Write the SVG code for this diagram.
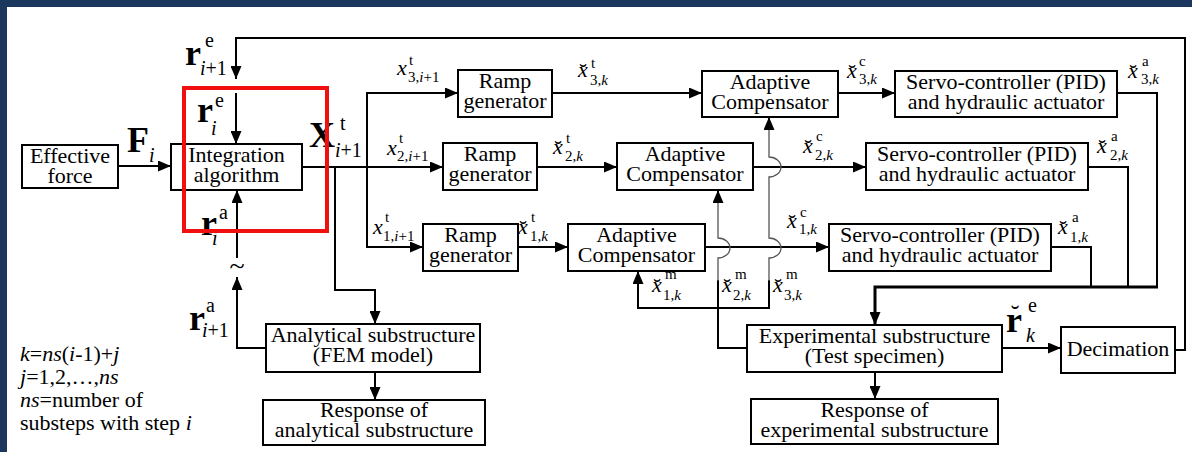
<svg xmlns="http://www.w3.org/2000/svg" width="1192" height="452" viewBox="0 0 1192 452">
<defs>
<marker id="ah" markerUnits="userSpaceOnUse" markerWidth="13" markerHeight="11" refX="13" refY="5.5" orient="auto">
<path d="M0,0 L13,5.5 L0,11 z" fill="#000"/>
</marker>
<style>
text{font-family:'Liberation Serif','DejaVu Serif','Noto Serif',serif;fill:#000}
.box{fill:#fff;stroke:#000;stroke-width:2}
.t{font-size:22px;text-anchor:middle}
.n{font-size:22px}
.m{font-size:22px;font-style:italic}
.s{font-size:15px}
.p{font-size:20px}
.b{font-size:36px;font-weight:bold}
.brv{font-size:23px;text-anchor:middle}
.i{font-style:italic}
.c{fill:none;stroke:#000;stroke-width:2}
.a{marker-end:url(#ah)}
.g{fill:none;stroke:#555;stroke-width:1.3}
.hl{fill:none;stroke:#f01010;stroke-width:4}
</style>
</defs>
<rect x="0" y="0" width="1192" height="452" fill="#fff"/>
<rect x="0" y="0" width="1192" height="7" fill="#1c375e"/>
<rect x="0" y="0" width="7" height="452" fill="#1c375e"/>

<g id="connectors">
<path class="c a" d="M118,166 H171"/>
<path class="c a" d="M302,167 H443"/>
<path class="c a" d="M367,167 V93 H458"/>
<path class="c a" d="M367,167 V247 H423"/>
<path class="c a" d="M335,167 V290 H375 V324"/>
<path class="c a" d="M552,93 H702"/>
<path class="c a" d="M838,93 H895"/>
<path class="c a" d="M537,167 H617"/>
<path class="c a" d="M753,167 H866"/>
<path class="c a" d="M518,247 H568"/>
<path class="c a" d="M705,247 H829"/>
<path class="c" d="M1117,93 H1157 V287"/>
<path class="c" d="M1088,167 H1128 V287"/>
<path class="c" d="M1051,247 H1091 V287"/>
<path class="c a" d="M1158,287 H875 V325" style="stroke-width:3"/>
<path class="c a" d="M1002,348 H1061"/>
<path class="c a" d="M875,372 V399"/>
<path class="c a" d="M1175,350 H1185 V38 H236 V79"/>
<path class="c a" d="M236,93 V144"/>
<path class="c a" d="M266,348 H237 V277"/>
<path class="c a" d="M237,258 V190"/>
<path class="c a" d="M375,372 V400"/>
<path class="c" d="M747,348 H718 V280"/>
<path class="c a" d="M718,308 H638 V271"/>
<path class="c" d="M718,308 H769 V280"/>
<path class="g" d="M718,281 V258 A12,10 0 0 0 718,238 V200"/>
<path class="c a" d="M718,201 V190"/>
<path class="g" d="M769,281 V258 A12,10 0 0 0 769,238 V177 A12,10 0 0 0 769,157 V128"/>
<path class="c a" d="M769,129 V117"/>
</g>

<g id="effective-force"><rect class="box" x="22" y="145" width="96" height="43"/><text class="t" x="70" y="163">Effective</text><text class="t" x="70" y="183">force</text></g>
<g id="integration-algorithm"><rect class="box" x="171" y="144" width="131" height="46"/><text class="t" x="236.5" y="162">Integration</text><text class="t" x="236.5" y="182">algorithm</text></g>
<g id="ramp-generator-3"><rect class="box" x="458" y="70" width="94" height="47"/><text class="t" x="505" y="88">Ramp</text><text class="t" x="505" y="108">generator</text></g>
<g id="ramp-generator-2"><rect class="box" x="443" y="143" width="94" height="47"/><text class="t" x="490" y="161">Ramp</text><text class="t" x="490" y="181">generator</text></g>
<g id="ramp-generator-1"><rect class="box" x="423" y="224" width="95" height="47"/><text class="t" x="470.5" y="242">Ramp</text><text class="t" x="470.5" y="262">generator</text></g>
<g id="adaptive-compensator-3"><rect class="box" x="702" y="71" width="136" height="46"/><text class="t" x="770" y="89">Adaptive</text><text class="t" x="770" y="109">Compensator</text></g>
<g id="adaptive-compensator-2"><rect class="box" x="617" y="143" width="136" height="47"/><text class="t" x="685" y="161">Adaptive</text><text class="t" x="685" y="181">Compensator</text></g>
<g id="adaptive-compensator-1"><rect class="box" x="568" y="224" width="137" height="47"/><text class="t" x="636.5" y="242">Adaptive</text><text class="t" x="636.5" y="262">Compensator</text></g>
<g id="servo-3"><rect class="box" x="895" y="71" width="222" height="46"/><text class="t" x="1006" y="89">Servo-controller (PID)</text><text class="t" x="1006" y="109">and hydraulic actuator</text></g>
<g id="servo-2"><rect class="box" x="866" y="143" width="222" height="47"/><text class="t" x="977" y="161">Servo-controller (PID)</text><text class="t" x="977" y="181">and hydraulic actuator</text></g>
<g id="servo-1"><rect class="box" x="829" y="224" width="222" height="47"/><text class="t" x="940" y="242">Servo-controller (PID)</text><text class="t" x="940" y="262">and hydraulic actuator</text></g>
<g id="analytical-substructure"><rect class="box" x="266" y="324" width="214" height="48"/><text class="t" x="373" y="342">Analytical substructure</text><text class="t" x="373" y="362">(FEM model)</text></g>
<g id="response-analytical"><rect class="box" x="263" y="400" width="222" height="45"/><text class="t" x="374" y="417">Response of</text><text class="t" x="374" y="437">analytical substructure</text></g>
<g id="experimental-substructure"><rect class="box" x="747" y="325" width="255" height="47"/><text class="t" x="874.5" y="343">Experimental substructure</text><text class="t" x="874.5" y="363">(Test specimen)</text></g>
<g id="response-experimental"><rect class="box" x="751" y="399" width="247" height="45"/><text class="t" x="874.5" y="417">Response of</text><text class="t" x="874.5" y="437">experimental substructure</text></g>
<g id="decimation"><rect class="box" x="1061" y="327" width="114" height="46"/><text class="t" x="1118" y="356">Decimation</text></g>

<g id="labels">
<text class="b" x="185" y="65">r</text><text class="p" x="205" y="47">e</text><text class="p" x="200" y="75"><tspan class="i">i</tspan>+1</text>
<text class="b" x="197" y="122">r</text><text class="p" x="215" y="107">e</text><text class="p i" x="211" y="135">i</text>
<text class="b" x="127" y="152">F</text><text class="p i" x="149" y="162">i</text>
<text class="b" x="309" y="147">X</text><text class="p" x="340" y="130">t</text><text class="p" x="335" y="157"><tspan class="i">i</tspan>+1</text>
<text class="b" x="201" y="235">r</text><text class="p" x="219" y="219">a</text><text class="p i" x="212" y="245">i</text>
<text class="t" x="237" y="275" style="font-size:28px">~</text>
<text class="b" x="189" y="330">r</text><text class="p" x="206" y="312">a</text><text class="p" x="202" y="337"><tspan class="i">i</tspan>+1</text>
<text class="b" x="1006" y="332">r</text><text class="brv" x="1015" y="323" style="font-size:26px">˘</text><text class="p" x="1028" y="312">e</text><text class="p i" x="1026" y="342">k</text>

<text class="m" x="397" y="75">x</text><text class="s" x="409" y="65">t</text><text class="s" x="408" y="82">3,<tspan class="i">i</tspan>+1</text>
<text class="m" x="578" y="77">x</text><text class="brv" x="583" y="80">˘</text><text class="s" x="591" y="68">t</text><text class="s" x="590" y="85">3,<tspan class="i">k</tspan></text>
<text class="m" x="847" y="78">x</text><text class="brv" x="852" y="81">˘</text><text class="s" x="859" y="66">c</text><text class="s" x="859" y="84">3,<tspan class="i">k</tspan></text>
<text class="m" x="1128" y="78">x</text><text class="brv" x="1133" y="81">˘</text><text class="s" x="1142" y="66">a</text><text class="s" x="1141" y="84">3,<tspan class="i">k</tspan></text>
<text class="m" x="387" y="155">x</text><text class="s" x="399" y="143">t</text><text class="s" x="397" y="161">2,<tspan class="i">i</tspan>+1</text>
<text class="m" x="553" y="154">x</text><text class="brv" x="558" y="157">˘</text><text class="s" x="566" y="143">t</text><text class="s" x="565" y="161">2,<tspan class="i">k</tspan></text>
<text class="m" x="803" y="153">x</text><text class="brv" x="808" y="156">˘</text><text class="s" x="816" y="141">c</text><text class="s" x="815" y="160">2,<tspan class="i">k</tspan></text>
<text class="m" x="1097" y="153">x</text><text class="brv" x="1102" y="156">˘</text><text class="s" x="1111" y="141">a</text><text class="s" x="1110" y="160">2,<tspan class="i">k</tspan></text>
<text class="m" x="373" y="234">x</text><text class="s" x="385" y="222">t</text><text class="s" x="383" y="241">1,<tspan class="i">i</tspan>+1</text>
<text class="m" x="518" y="234">x</text><text class="brv" x="523" y="237">˘</text><text class="s" x="531" y="222">t</text><text class="s" x="530" y="241">1,<tspan class="i">k</tspan></text>
<text class="m" x="787" y="228">x</text><text class="brv" x="792" y="231">˘</text><text class="s" x="800" y="217">c</text><text class="s" x="799" y="234">1,<tspan class="i">k</tspan></text>
<text class="m" x="1058" y="234">x</text><text class="brv" x="1063" y="237">˘</text><text class="s" x="1072" y="222">a</text><text class="s" x="1070" y="242">1,<tspan class="i">k</tspan></text>
<text class="m" x="652" y="292">x</text><text class="brv" x="657" y="295">˘</text><text class="s" x="665" y="279">m</text><text class="s" x="663" y="300">1,<tspan class="i">k</tspan></text>
<text class="m" x="722" y="292">x</text><text class="brv" x="727" y="295">˘</text><text class="s" x="735" y="279">m</text><text class="s" x="733" y="300">2,<tspan class="i">k</tspan></text>
<text class="m" x="773" y="292">x</text><text class="brv" x="778" y="295">˘</text><text class="s" x="786" y="279">m</text><text class="s" x="784" y="300">3,<tspan class="i">k</tspan></text>
</g>

<g id="notes">
<text class="n" x="20" y="361"><tspan class="i">k</tspan>=<tspan class="i">ns</tspan>(<tspan class="i">i</tspan>-1)+<tspan class="i">j</tspan></text>
<text class="n" x="20" y="384"><tspan class="i">j</tspan>=1,2,…,<tspan class="i">ns</tspan></text>
<text class="n" x="20" y="407"><tspan class="i">ns</tspan>=number of</text>
<text class="n" x="20" y="430">substeps with step <tspan class="i">i</tspan></text>
</g>

<g id="highlight"><rect class="hl" x="184" y="88" width="143" height="143"/></g>
</svg>
